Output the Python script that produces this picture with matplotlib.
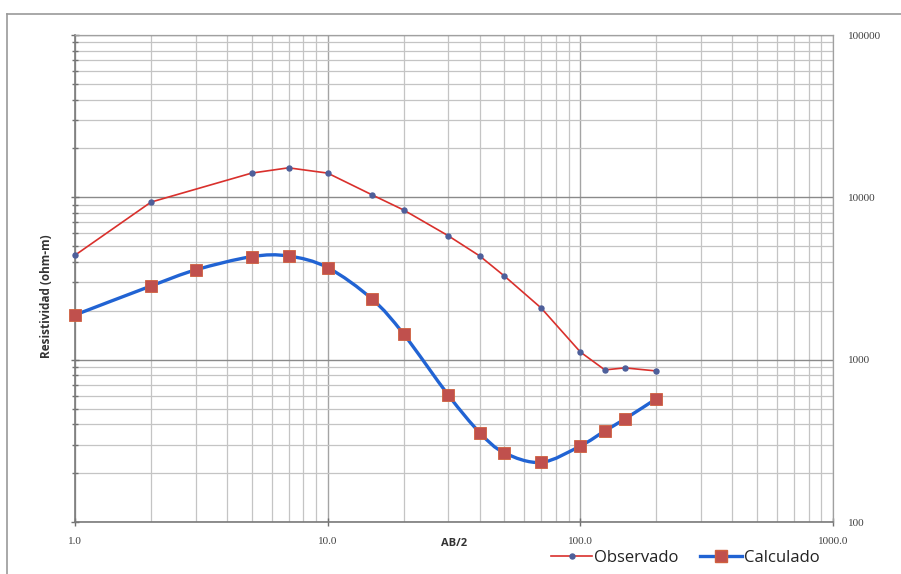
import numpy as np
import matplotlib
matplotlib.use("Agg")
import matplotlib.pyplot as plt
from matplotlib.path import Path
from matplotlib.patches import PathPatch
from matplotlib.lines import Line2D
from matplotlib.ticker import FixedLocator, FixedFormatter, NullFormatter

# Sondeo electrico vertical: AB/2 (m) vs resistividad aparente (ohm-m)
ab2_obs = [1, 2, 5, 7, 10, 15, 20, 30, 40, 50, 70, 100, 125, 150, 200]
rho_obs = [4400, 9350, 14100, 15200, 14100, 10350, 8350, 5800, 4350, 3280, 2080, 1115, 865, 890, 852]

ab2_calc = [1, 2, 3, 5, 7, 10, 15, 20, 30, 40, 50, 70, 100, 125, 150, 200]
rho_calc = [1885, 2845, 3570, 4310, 4350, 3690, 2360, 1435, 606, 355, 267, 233, 294, 364, 431, 575]

x_ticks = [1, 10, 100, 1000]
x_ticklabels = ["1.0", "10.0", "100.0", "1000.0"]
y_ticks = [100, 1000, 10000, 100000]
y_ticklabels = ["100", "1000", "10000", "100000"]

RED = "#d9302c"
DOT = "#4e5f9a"
BLUE = "#2163d3"
SQUARE = "#c0504d"


def smooth_path(xs, ys):
    # Bezier through the points (Excel-style smoothing), built in log space
    lx = np.log10(xs)
    ly = np.log10(ys)
    pts = np.column_stack([lx, ly])
    n = len(pts)
    verts = [pts[0]]
    codes = [Path.MOVETO]
    for i in range(n - 1):
        p0 = pts[i - 1] if i > 0 else pts[i]
        p1 = pts[i]
        p2 = pts[i + 1]
        p3 = pts[i + 2] if i + 2 < n else pts[i + 1]
        c1 = p1 + (p2 - p0) / 6.0
        c2 = p2 - (p3 - p1) / 6.0
        verts += [c1, c2, p2]
        codes += [Path.CURVE4] * 3
    verts = 10 ** np.array(verts)
    return Path(verts, codes)


fig = plt.figure(figsize=(9.01, 5.74), dpi=100)
ax = fig.add_axes([75 / 901, 1 - 522 / 574, (833 - 75) / 901, (522 - 35) / 574])

ax.set_xscale("log")
ax.set_yscale("log")
ax.set_xlim(1, 1000)
ax.set_ylim(100, 100000)

# grid
minors_x = [m * 10 ** k for k in range(0, 3) for m in range(2, 10)]
minors_y = [m * 10 ** k for k in range(2, 5) for m in range(2, 10)]
ax.xaxis.set_major_locator(FixedLocator(x_ticks))
ax.xaxis.set_minor_locator(FixedLocator(minors_x))
ax.yaxis.set_major_locator(FixedLocator(y_ticks))
ax.yaxis.set_minor_locator(FixedLocator(minors_y))
ax.xaxis.set_major_formatter(FixedFormatter(x_ticklabels))
ax.yaxis.set_major_formatter(FixedFormatter(y_ticklabels))
ax.xaxis.set_minor_formatter(NullFormatter())
ax.yaxis.set_minor_formatter(NullFormatter())
ax.xaxis.grid(True, which="major", color="#a4a4a4", linewidth=1.0)
ax.yaxis.grid(True, which="major", color="#8a8a8a", linewidth=1.0)
ax.grid(True, which="minor", color="#c4c4c4", linewidth=0.9)
ax.set_axisbelow(True)

for side in ["top", "right"]:
    ax.spines[side].set_color("#a0a0a0")
    ax.spines[side].set_linewidth(0.9)
for side in ["left", "bottom"]:
    ax.spines[side].set_color("#7a7a7a")
    ax.spines[side].set_linewidth(1.2)

ax.tick_params(axis="both", which="both", direction="inout", color="#707070")
ax.tick_params(axis="x", which="major", length=6, width=1, pad=8,
               labelsize=8, labelcolor="#404040")
ax.tick_params(axis="x", which="minor", length=0)
ax.tick_params(axis="y", which="major", length=6, width=1, labelleft=False,
               labelright=True, right=False, pad=8, labelsize=8, labelcolor="#404040")
ax.tick_params(axis="y", which="minor", length=5, width=1, right=False)
for lab in ax.get_xticklabels() + ax.get_yticklabels():
    lab.set_fontfamily("Liberation Serif")

# observed curve
ax.plot(ab2_obs, rho_obs, color=RED, linewidth=1.2, marker="o", markersize=3.6,
        markerfacecolor=DOT, markeredgecolor=DOT, zorder=3, clip_on=False)

# calculated curve (smoothed)
ax.add_patch(PathPatch(smooth_path(ab2_calc, rho_calc), fill=False, edgecolor=BLUE,
                       linewidth=2.4, capstyle="round", zorder=3))
ax.plot(ab2_calc, rho_calc, linestyle="none", marker="s", markersize=8.3,
        markerfacecolor=SQUARE, markeredgecolor="#d0603e", markeredgewidth=0.6,
        zorder=4, clip_on=False)

ax.set_xlabel("AB/2", fontsize=8, fontweight="bold", family="Open Sans",
              color="#333333", va="center")
ax.xaxis.set_label_coords(0.5, -(544 - 522) / 487)
ax.set_ylabel("Resistividad (ohm-m)", fontsize=8.5, fontweight="bold", family="Open Sans",
              color="#333333", va="center")
ax.yaxis.set_label_coords((46 - 75) / 758, (522 - 296) / 487)

handles = [
    Line2D([], [], color=RED, linewidth=1.2, marker="o", markersize=3.6,
           markerfacecolor=DOT, markeredgecolor=DOT),
    Line2D([], [], color=BLUE, linewidth=2.4, marker="s", markersize=8.3,
           markerfacecolor=SQUARE, markeredgecolor="#d0603e"),
]
fig.legend(handles, ["Observado", "Calculado"], loc="center",
           bbox_to_anchor=(685 / 901, 1 - 558 / 574), ncol=2, frameon=False,
           prop={"family": "Open Sans", "size": 12}, handlelength=2.5,
           handletextpad=0.1, columnspacing=1.3, labelcolor="#222222")

# outer chart border
fig.add_artist(Line2D([7 / 901, 7 / 901], [0, 1 - 14 / 574], color="#9a9a9a",
                      linewidth=1.2, transform=fig.transFigure))
fig.add_artist(Line2D([7 / 901, 1], [1 - 14 / 574, 1 - 14 / 574], color="#9a9a9a",
                      linewidth=1.2, transform=fig.transFigure))

fig.savefig("out.png", dpi=100)
